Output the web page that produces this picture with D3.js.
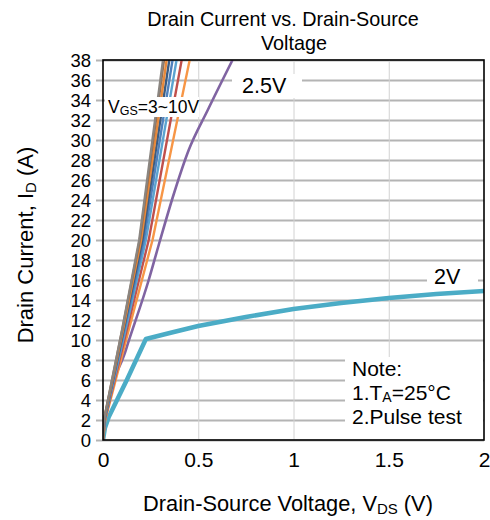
<!DOCTYPE html>
<html>
<head>
<meta charset="utf-8">
<script src="https://cdn.jsdelivr.net/npm/d3@7"></script>
<style>
  html, body { margin: 0; padding: 0; background: #fff; }
  svg { display: block; font-family: "Liberation Sans", Arial, sans-serif; }
</style>
</head>
<body>
<svg id="chart" width="490" height="520"></svg>
<script>
// Output characteristics: drain current vs drain-source voltage at several gate voltages
const xTicks = [0, 0.5, 1, 1.5, 2];
const xTickLabels = ["0", "0.5", "1", "1.5", "2"];
const yTicks = [0, 2, 4, 6, 8, 10, 12, 14, 16, 18, 20, 22, 24, 26, 28, 30, 32, 34, 36, 38];

// V_GS = 3~10 V family (V_DS in volts, I_D in amps)
const vgs10 = [[0, 0], [0.005, 2], [0.100, 11], [0.190, 20], [0.315, 38]];
const vgs9  = [[0, 0], [0.005, 2], [0.101, 11], [0.193, 20], [0.320, 38]];
const vgs8  = [[0, 0], [0.006, 2], [0.105, 11], [0.200, 20], [0.334, 38]];
const vgs7  = [[0, 0], [0.007, 2], [0.108, 11], [0.207, 20], [0.348, 38]];
const vgs6  = [[0, 0], [0.008, 2], [0.112, 11], [0.215, 20], [0.365, 38]];
const vgs5  = [[0, 0], [0.009, 2], [0.118, 11], [0.225, 20], [0.386, 38]];
const vgs4  = [[0, 0], [0.010, 2], [0.125, 11], [0.240, 20], [0.413, 38]];
const vgs3  = [[0, 0], [0.012, 2], [0.135, 11], [0.260, 20], [0.455, 38]];
// V_GS = 2.5 V
const vgs25 = [[0, 0], [0.010, 2], [0.120, 9], [0.240, 16], [0.300, 20], [0.370, 24.5], [0.450, 29], [0.550, 33], [0.680, 38]];
// V_GS = 2 V
const vgs2  = [[0, 0], [0.010, 1.2], [0.030, 2.3], [0.125, 6], [0.225, 10.1], [0.35, 10.7], [0.5, 11.4],
               [0.75, 12.3], [1.0, 13.1], [1.25, 13.7], [1.5, 14.2], [1.75, 14.6], [2.0, 14.9]];

const bundle = [
  { data: vgs10, color: "#8a8580" },
  { data: vgs9,  color: "#9b6a45" },
  { data: vgs8,  color: "#e8893a" },
  { data: vgs7,  color: "#3d5c80" },
  { data: vgs6,  color: "#4f81bd" },
  { data: vgs5,  color: "#5ba3d0" },
  { data: vgs4,  color: "#c0504d" },
  { data: vgs3,  color: "#f79646" }
];

const svg = d3.select("#chart");
const x = d3.scaleLinear().domain([0, 2]).range([103, 484]);
const y = d3.scaleLinear().domain([0, 38]).range([440, 60]);

svg.append("defs").append("clipPath").attr("id", "plotClip")
  .append("rect").attr("x", x(0)).attr("y", y(38)).attr("width", x(2) - x(0)).attr("height", y(0) - y(38));

// Horizontal grid, extending slightly left of the frame
const yGrid = svg.append("g")
  .attr("transform", `translate(${x(2)},0)`)
  .call(d3.axisLeft(y).tickValues(yTicks).tickSize(x(2) - x(0) + 7).tickFormat(""));
yGrid.select(".domain").remove();
yGrid.selectAll("line").attr("stroke", "#b4b4b4").attr("stroke-width", 2);

// Vertical grid
const xGrid = svg.append("g")
  .attr("transform", `translate(0,${y(0)})`)
  .call(d3.axisTop(x).tickValues([0.5, 1, 1.5]).tickSize(y(0) - y(38)).tickFormat(""));
xGrid.select(".domain").remove();
xGrid.selectAll("line").attr("stroke", "#d2d2d2").attr("stroke-width", 1);

const line = d3.line().x(d => x(d[0])).y(d => y(d[1]));
const smooth = d3.line().x(d => x(d[0])).y(d => y(d[1])).curve(d3.curveMonotoneX);
const curves = svg.append("g").attr("clip-path", "url(#plotClip)");

curves.append("path").datum(vgs2)
  .attr("d", line).attr("fill", "none")
  .attr("stroke", "#4bacc6").attr("stroke-width", 4.5)
  .attr("stroke-linejoin", "round").attr("stroke-linecap", "round");

curves.append("path").datum(vgs25)
  .attr("d", smooth).attr("fill", "none")
  .attr("stroke", "#8064a2").attr("stroke-width", 2.6)
  .attr("stroke-linejoin", "round");

curves.selectAll("path.vgs").data(bundle.slice().reverse()).join("path")
  .attr("class", "vgs")
  .attr("d", d => line(d.data)).attr("fill", "none")
  .attr("stroke", d => d.color).attr("stroke-width", 2.4)
  .attr("stroke-linejoin", "round");

// Curve labels on white backgrounds
function boxLabel(bx, by, bw, bh) {
  svg.append("rect").attr("x", bx).attr("y", by).attr("width", bw).attr("height", bh).attr("fill", "#fff");
}

boxLabel(105, 97, 94, 20);
const vgsText = svg.append("text").attr("x", 108).attr("y", 113).attr("font-size", 17.5).attr("fill", "#000");
vgsText.append("tspan").text("V");
vgsText.append("tspan").attr("font-size", 12.5).attr("dy", 2).text("GS");
vgsText.append("tspan").attr("dy", -2).text("=3~10V");

boxLabel(232, 74, 70, 24);
svg.append("text").attr("x", 242).attr("y", 92.5).attr("font-size", 21.5).text("2.5V");

boxLabel(427, 265, 51, 24);
svg.append("text").attr("x", 434).attr("y", 283.5).attr("font-size", 21.5).text("2V");

// Note box
boxLabel(345, 357, 138, 82);
svg.append("text").attr("x", 352).attr("y", 375.5).attr("font-size", 21).text("Note:");
const n1 = svg.append("text").attr("x", 352).attr("y", 399.5).attr("font-size", 21);
n1.append("tspan").text("1.T");
n1.append("tspan").attr("font-size", 14).attr("dy", 2).text("A");
n1.append("tspan").attr("dy", -2).text("=25°C");
svg.append("text").attr("x", 352).attr("y", 424).attr("font-size", 21).text("2.Pulse test");

// Frame
svg.append("rect").attr("x", x(0)).attr("y", y(38))
  .attr("width", x(2) - x(0)).attr("height", y(0) - y(38))
  .attr("fill", "none").attr("stroke", "#000").attr("stroke-width", 1.6);

// Axis tick labels
const yAxis = svg.append("g")
  .attr("transform", `translate(${x(0) - 12},0)`)
  .call(d3.axisLeft(y).tickValues(yTicks).tickSize(0).tickPadding(0));
yAxis.select(".domain").remove();
yAxis.selectAll("text").attr("font-size", 18.5).attr("font-family", "Liberation Sans, Arial, sans-serif")
  .attr("fill", "#000").attr("dy", "0.36em");

const xAxis = svg.append("g")
  .attr("transform", `translate(0,${y(0)})`)
  .call(d3.axisBottom(x).tickValues(xTicks).tickFormat((d, i) => xTickLabels[i]).tickSize(0).tickPadding(12));
xAxis.select(".domain").remove();
xAxis.selectAll("text").attr("font-size", 21).attr("font-family", "Liberation Sans, Arial, sans-serif")
  .attr("fill", "#000");

// Titles
svg.append("text").attr("x", 283).attr("y", 26).attr("text-anchor", "middle").attr("font-size", 19.8)
  .text("Drain Current vs. Drain-Source");
svg.append("text").attr("x", 294).attr("y", 50).attr("text-anchor", "middle").attr("font-size", 19.8)
  .text("Voltage");

const xt = svg.append("text").attr("x", 288).attr("y", 511).attr("text-anchor", "middle").attr("font-size", 21.8);
xt.append("tspan").text("Drain-Source Voltage, V");
xt.append("tspan").attr("font-size", 15).attr("dy", 3).text("DS");
xt.append("tspan").attr("dy", -3).text(" (V)");

const yt = svg.append("text").attr("transform", "translate(33,245) rotate(-90)")
  .attr("text-anchor", "middle").attr("font-size", 22);
yt.append("tspan").text("Drain Current, I");
yt.append("tspan").attr("font-size", 15).attr("dy", 3).text("D");
yt.append("tspan").attr("dy", -3).text(" (A)");
</script>
</body>
</html>
